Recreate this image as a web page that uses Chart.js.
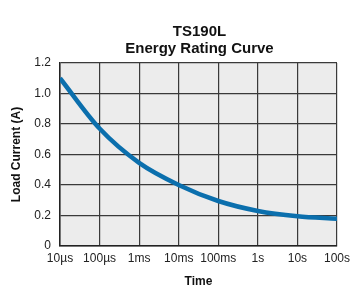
<!DOCTYPE html>
<html>
<head>
<meta charset="utf-8">
<script src="https://cdn.jsdelivr.net/npm/chart.js@4/dist/chart.umd.min.js"></script>
<style>
  html, body { margin: 0; padding: 0; background: #fff; }
  #wrap { width: 350px; height: 290px; }
</style>
</head>
<body>
<div id="wrap"><canvas id="energyChart" width="350" height="290"></canvas></div>
<script>
// Energy rating curve data (time in seconds, current in A)
const times = [1e-5, 1e-4, 1e-3, 1e-2, 1e-1, 1, 10, 100];
const loadCurrent = [1.10, 0.77, 0.545, 0.40, 0.295, 0.23, 0.195, 0.178];
const xTickValues = [1e-5, 1e-4, 1e-3, 1e-2, 1e-1, 1, 10, 100];
const xTickLabels = ['10µs', '100µs', '1ms', '10ms', '100ms', '1s', '10s', '100s'];
const titleLines = ['TS190L', 'Energy Rating Curve'];

const FONT = "'Liberation Sans', Arial, Helvetica, sans-serif";

// Gray plot background + title centered over the plot area
const plotDecor = {
  id: 'plotDecor',
  beforeDraw(chart) {
    const { ctx, chartArea: a } = chart;
    ctx.save();
    ctx.fillStyle = '#ececec';
    ctx.fillRect(a.left, a.top, a.right - a.left, a.bottom - a.top);
    ctx.restore();
  },
  afterDraw(chart) {
    const { ctx, chartArea: a } = chart;
    const cx = (a.left + a.right) / 2;
    ctx.save();
    ctx.fillStyle = '#111';
    ctx.font = 'bold 15px ' + FONT;
    ctx.textAlign = 'center';
    ctx.textBaseline = 'alphabetic';
    ctx.fillText(titleLines[0], cx + 1, 36);
    ctx.fillText(titleLines[1], cx + 1, 53);
    ctx.restore();
  }
};

const ctx = document.getElementById('energyChart').getContext('2d');
const chart = new Chart(ctx, {
  type: 'line',
  data: {
    datasets: [{
      data: times.map((t, i) => ({ x: t, y: loadCurrent[i] })),
      borderColor: '#0b6fad',
      borderWidth: 4.5,
      pointRadius: 0,
      cubicInterpolationMode: 'monotone',
      fill: false
    }]
  },
  options: {
    responsive: false,
    animation: false,
    layout: { padding: { top: 63, left: 9, right: 13, bottom: 0 } },
    scales: {
      x: {
        type: 'logarithmic',
        min: 1e-5,
        max: 100,
        afterBuildTicks(scale) {
          scale.ticks = xTickValues.map(v => ({ value: v }));
        },
        afterFit(scale) {
          scale.height = 44;
          scale.paddingLeft = 0;
          scale.paddingRight = 0;
        },
        ticks: {
          autoSkip: false,
          maxRotation: 0,
          color: '#222',
          font: { family: FONT, size: 12 },
          padding: 5,
          callback: (v, i) => xTickLabels[i]
        },
        grid: { color: '#3a3a3a', lineWidth: 1.2, drawTicks: false },
        border: { color: '#222', width: 1.5 },
        title: {
          display: true,
          text: 'Time',
          color: '#111',
          font: { family: FONT, size: 12, weight: 'bold' },
          padding: { top: 8, bottom: 1 }
        }
      },
      y: {
        min: 0,
        max: 1.2,
        afterFit(scale) { scale.width = 51; },
        ticks: {
          stepSize: 0.2,
          color: '#222',
          font: { family: FONT, size: 12 },
          padding: 9,
          callback: v => (v === 0 ? '0' : v.toFixed(1))
        },
        grid: { color: '#3a3a3a', lineWidth: 1.2, drawTicks: false },
        border: { color: '#222', width: 1.5 },
        title: {
          display: true,
          text: 'Load Current (A)',
          color: '#111',
          font: { family: FONT, size: 12, weight: 'bold' },
          padding: 0
        }
      }
    },
    plugins: {
      legend: { display: false },
      tooltip: { enabled: false }
    }
  },
  plugins: [plotDecor]
});
</script>
</body>
</html>
